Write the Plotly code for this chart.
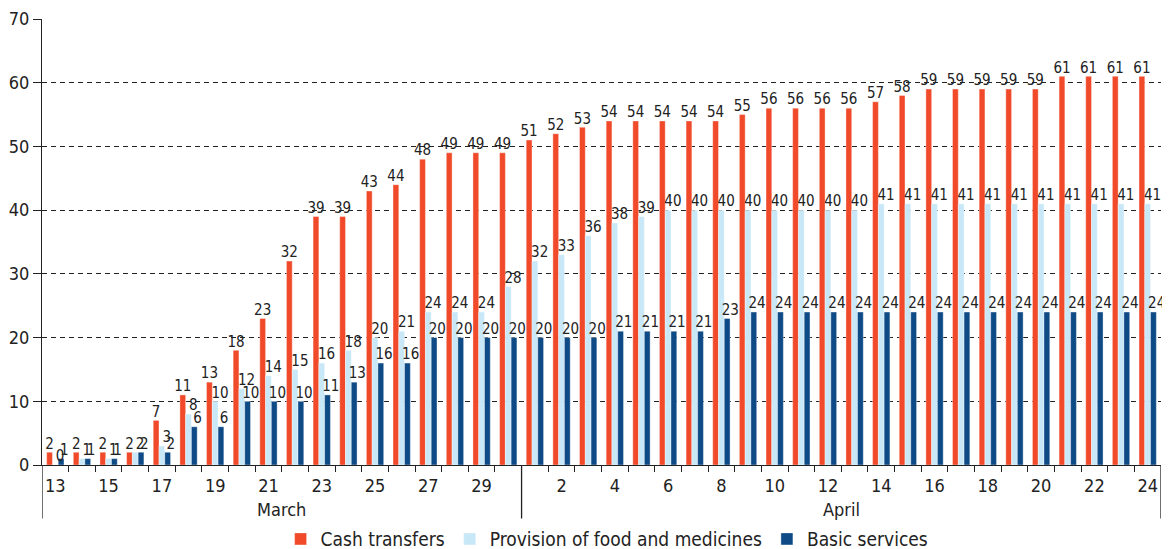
import plotly.graph_objects as go

months = ["March"] * 18 + ["April"] * 24
days = list(range(13, 31)) + list(range(1, 25))

cash = [2, 2, 2, 2, 7, 11, 13, 18, 23, 32, 39, 39, 43, 44, 48, 49, 49, 49,
        51, 52, 53, 54, 54, 54, 54, 54, 55, 56, 56, 56, 56, 57, 58, 59, 59, 59, 59, 59, 61, 61, 61, 61]
food = [0, 1, 1, 2, 3, 8, 10, 12, 14, 15, 16, 18, 20, 21, 24, 24, 24, 28,
        32, 33, 36, 38, 39, 40, 40, 40, 40, 40, 40, 40, 40, 41, 41, 41, 41, 41, 41, 41, 41, 41, 41, 41]
basic = [1, 1, 1, 2, 2, 6, 6, 10, 10, 10, 11, 13, 16, 16, 20, 20, 20, 20,
         20, 20, 20, 21, 21, 21, 21, 23, 24, 24, 24, 24, 24, 24, 24, 24, 24, 24, 24, 24, 24, 24, 24, 24]

series = [
    ("Cash transfers", cash, "#F04A2A"),
    ("Provision of food and medicines", food, "#C8E8F8"),
    ("Basic services", basic, "#0E4A85"),
]
y_ticks = list(range(0, 71, 10))

FONT = "DejaVu Sans Condensed, Liberation Sans Narrow, Arial Narrow, sans-serif"
TXT = "#222222"

n = len(days)
xs = list(range(n))
bargap = 0.35
w = (1 - bargap) / 3
label_shift = [0.0, 0.18, 0.12]

fig = go.Figure()
for k, (name, vals, col) in enumerate(series):
    fig.add_trace(go.Bar(
        x=xs, y=vals, name=name,
        marker=dict(color=col, line=dict(color="rgba(255,255,255,0.6)", width=0.6)),
    ))
for k, (name, vals, col) in enumerate(series):
    fig.add_trace(go.Scatter(
        x=[x + (k - 1) * w + label_shift[k] for x in xs], y=vals, mode="text",
        text=[str(v) for v in vals], textposition="top center",
        textfont=dict(family=FONT, size=15, color=TXT),
        showlegend=False, hoverinfo="skip", cliponaxis=False,
    ))

tick_idx = [i for i in range(n)
            if (months[i] == "March" and days[i] % 2 == 1) or (months[i] == "April" and days[i] % 2 == 0)]

# page body has an 8px margin: size the figure so the plot area lands where the reference has it
fig.update_layout(
    width=1162, height=541,
    margin=dict(l=34, r=9, t=11, b=84, autoexpand=False),
    paper_bgcolor="white", plot_bgcolor="white",
    barmode="group", bargap=bargap, bargroupgap=0,
    font=dict(family=FONT, size=18, color=TXT),
    showlegend=True,
    legend=dict(orientation="h", x=0.505, xanchor="center", y=-0.166, yanchor="middle",
                font=dict(family=FONT, size=19, color=TXT), itemwidth=30,
                traceorder="normal", bgcolor="rgba(0,0,0,0)"),
)
fig.update_xaxes(
    range=[-0.5, n - 0.5], showgrid=False, zeroline=False, automargin=False,
    tickmode="array", tickvals=tick_idx, ticktext=[str(days[i]) for i in tick_idx],
    ticks="", tickfont=dict(family=FONT, size=18, color=TXT), ticklabelstandoff=4,
    showline=True, linecolor="#222", linewidth=1.3,
    minor=dict(tickmode="array", tickvals=[i + 0.5 for i in range(n - 1)], ticks="outside",
               ticklen=6, tickcolor="#222", tickwidth=1.2, showgrid=False),
)
fig.update_yaxes(
    range=[0, 70], tickvals=y_ticks, ticks="outside", ticklen=8, tickcolor="#222",
    showline=True, linecolor="#222", linewidth=1.3, automargin=False,
    showgrid=True, gridcolor="#222", gridwidth=1, griddash="5px,4px",
    zeroline=False, tickfont=dict(family=FONT, size=18, color=TXT),
)

# month separators and labels
month_names = []
for m in months:
    if m not in month_names:
        month_names.append(m)
bounds = [-0.5]
for m in month_names:
    bounds.append(bounds[-1] + months.count(m))
for b in bounds:
    fig.add_shape(type="line", xref="x", yref="paper", x0=b, x1=b, y0=0, y1=-0.12,
                  line=dict(color="#222", width=1.3))
for j, m in enumerate(month_names):
    fig.add_annotation(x=(bounds[j] + bounds[j + 1]) / 2, xref="x", y=-0.1, yref="paper",
                       text=m, showarrow=False, yanchor="middle",
                       font=dict(family=FONT, size=18, color=TXT))

fig.write_html("out.html")
